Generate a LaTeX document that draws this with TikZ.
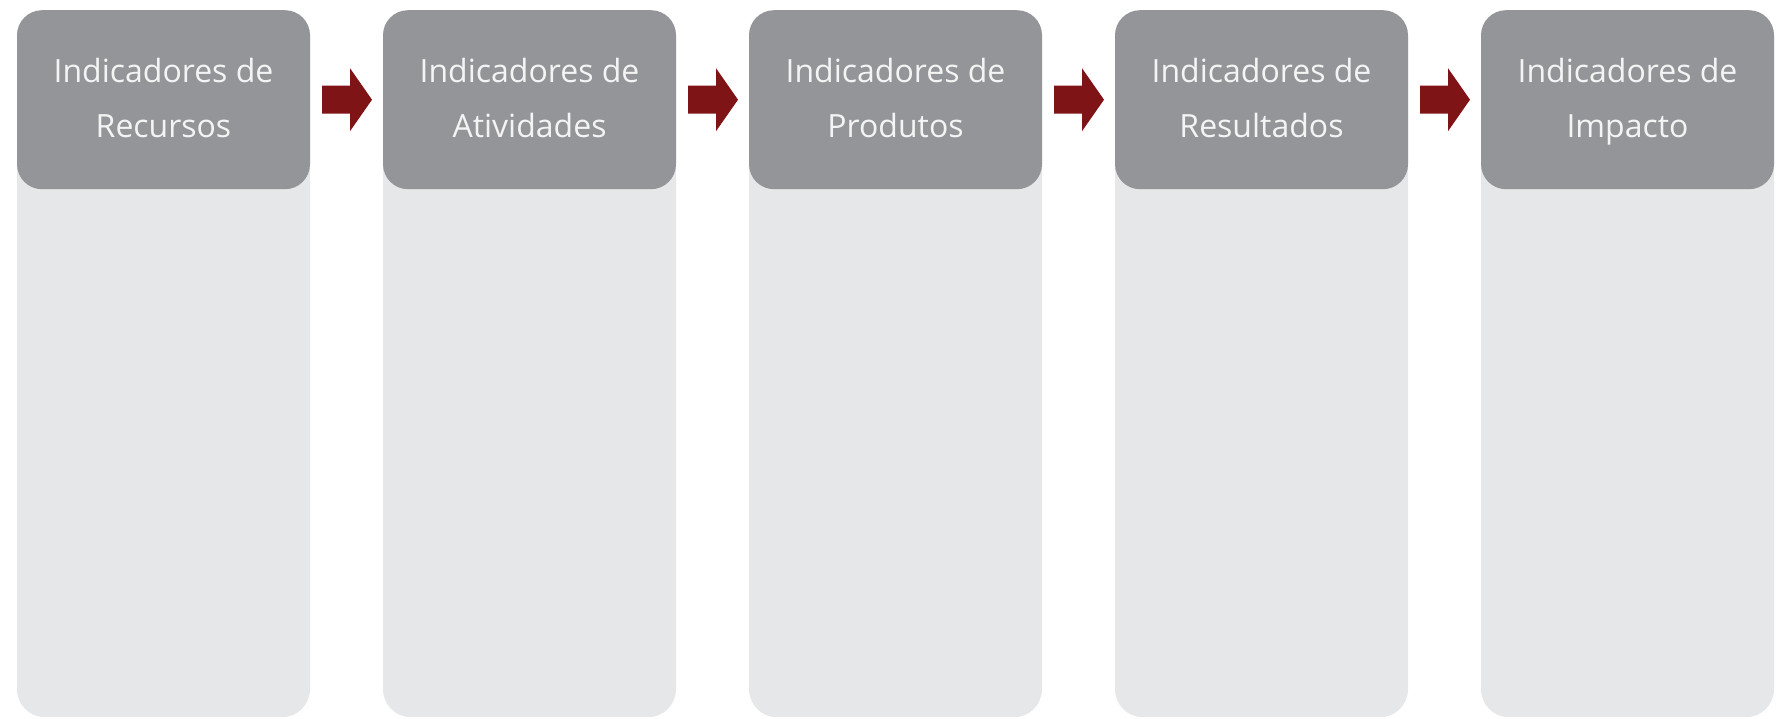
\documentclass[tikz,border=0pt]{standalone}
\usepackage{fontspec}
\setmainfont{Open Sans}
\usetikzlibrary{calc}
\definecolor{hdrgray}{HTML}{939598}
\definecolor{bodygray}{HTML}{E6E7E8}
\definecolor{arrowred}{HTML}{7F1416}
\definecolor{txtwhite}{HTML}{F4F4F4}
\tikzset{
  body/.style={fill=bodygray, rounded corners=28pt, minimum width=293pt, minimum height=707pt, anchor=north, inner sep=0pt},
  header/.style={fill=hdrgray, rounded corners=25pt, minimum width=293pt, minimum height=179pt, anchor=north, inner sep=0pt,
    text=txtwhite, align=center, text depth=4pt, font=\fontsize{32}{55}\selectfont},
  flowarrow/.style={fill=arrowred}
}
\begin{document}
\begin{tikzpicture}[x=1pt,y=-1pt]
\useasboundingbox (0,0) rectangle (1777,718);
\foreach \i/\t [count=\k] in {0/{Indicadores de\\Recursos},1/{Indicadores de\\Atividades},2/{Indicadores de\\Produtos},3/{Indicadores de\\Resultados},4/{Indicadores de\\Impacto}}{
  \node[body] (b\k) at ({163.5+366*\i},10) {};
  \node[header] (h\k) at ({163.5+366*\i},10) {\t};
}
\foreach \a/\b in {1/2,2/3,3/4,4/5}{
  \coordinate (m\a) at ($(h\a.east)!0.5!(h\b.west)$);
  \fill[flowarrow] ($(m\a)+(-24.5,-14)$) -- ($(m\a)+(3.5,-14)$) -- ($(m\a)+(3.5,-31.5)$)
    -- ($(m\a)+(25.5,0)$) -- ($(m\a)+(3.5,31.5)$) -- ($(m\a)+(3.5,14)$) -- ($(m\a)+(-24.5,14)$) -- cycle;
}
\end{tikzpicture}
\end{document}
